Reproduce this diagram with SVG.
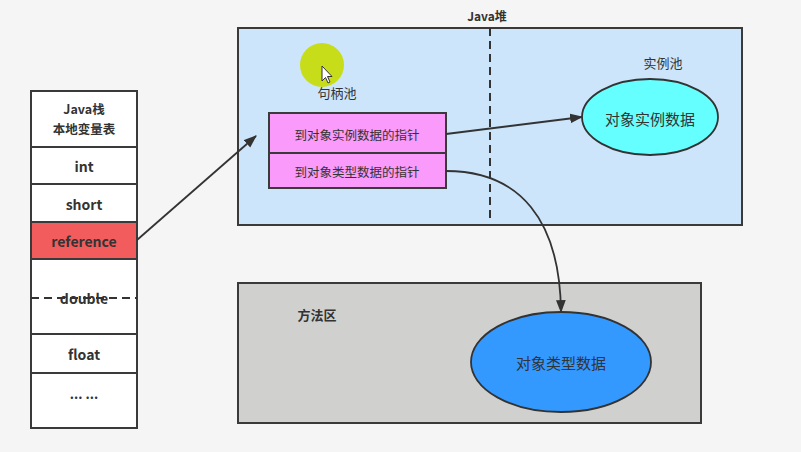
<svg xmlns="http://www.w3.org/2000/svg" width="801" height="452" viewBox="0 0 801 452">
<style>
.t{font-family:"Noto Sans CJK SC","Noto Sans",sans-serif;fill:#333;text-anchor:middle;dominant-baseline:central}
.b{font-weight:bold}
.box{stroke:#3a3a3a;stroke-width:2}
.cell{fill:#fff;stroke:#3a3a3a;stroke-width:2}
.con{fill:none;stroke:#333;stroke-width:1.8}
</style>
<defs>
<marker id="ah" viewBox="0 0 12 10" refX="11" refY="5" markerWidth="13" markerHeight="11" markerUnits="userSpaceOnUse" orient="auto">
<path d="M0,0.5 L12,5 L0,9.5 z" fill="#333"/>
</marker>
</defs>
<rect width="801" height="452" fill="#f4f5f4"/>
<g id="java-heap">
<rect class="box" x="238" y="28" width="504" height="197" fill="#cce5fb"/>
<text class="t b" x="487" y="15" font-size="12">Java堆</text>
<line x1="490" y1="28" x2="490" y2="222" stroke="#333" stroke-width="2" stroke-dasharray="8,5"/>
<circle cx="322" cy="65" r="22" fill="#c8dc00" opacity="0.9"/>
<path d="M322,66 L322,81 L325.5,77.5 L328,83 L330,82 L327.5,76.5 L332,76.5 z" fill="#fff" stroke="#333" stroke-width="1"/>
<text class="t" x="337" y="92" font-size="13">句柄池</text>
<text class="t" x="663" y="62" font-size="13">实例池</text>
</g>
<g id="handle-instance">
<rect class="box" x="269" y="113" width="177" height="40" fill="#fa9afa"/>
<text class="t" x="357" y="134" font-size="12.5">到对象实例数据的指针</text>
</g>
<g id="handle-type">
<rect class="box" x="269" y="153" width="177" height="35" fill="#fa9afa"/>
<text class="t" x="357" y="171" font-size="12.5">到对象类型数据的指针</text>
</g>
<g id="instance-data">
<ellipse cx="650" cy="117" rx="68" ry="38" fill="#66ffff" stroke="#333" stroke-width="1.8"/>
<text class="t" x="650" y="118" font-size="15">对象实例数据</text>
</g>
<g id="method-area">
<rect class="box" x="238" y="283" width="463" height="140" fill="#d0d1cf"/>
<text class="t b" x="317" y="314" font-size="13">方法区</text>
</g>
<g id="type-data">
<ellipse cx="561" cy="362" rx="90" ry="50" fill="#3399ff" stroke="#333" stroke-width="1.8"/>
<text class="t" x="561" y="362" font-size="15">对象类型数据</text>
</g>
<g id="java-stack">
<rect class="cell" x="31" y="91" width="106" height="56"/>
<text class="t b" x="84" y="108" font-size="12.5">Java栈</text>
<text class="t b" x="84" y="128" font-size="12.5">本地变量表</text>
<rect class="cell" x="31" y="147" width="106" height="37"/>
<text class="t b" x="84" y="166" font-size="14">int</text>
<rect class="cell" x="31" y="184" width="106" height="38"/>
<text class="t b" x="84" y="204" font-size="14">short</text>
<rect class="box" x="31" y="222" width="106" height="37" fill="#f35c5c"/>
<text class="t b" x="84" y="241" font-size="14">reference</text>
<rect class="cell" x="31" y="259" width="106" height="75"/>
<text class="t b" x="84" y="298" font-size="14">double</text>
<line x1="31" y1="298" x2="137" y2="298" stroke="#333" stroke-width="2" stroke-dasharray="8,5"/>
<rect class="cell" x="31" y="334" width="106" height="39"/>
<text class="t b" x="84" y="354" font-size="14">float</text>
<rect class="cell" x="31" y="373" width="106" height="55"/>
<text class="t b" x="84" y="393" font-size="13">... ...</text>
</g>
<g id="connectors">
<path class="con" d="M137,240 L256,136" marker-end="url(#ah)"/>
<path class="con" d="M446,134 L582,117" marker-end="url(#ah)"/>
<path class="con" d="M446,171 C520,171 560,220 561,312" marker-end="url(#ah)"/>
</g>
</svg>
